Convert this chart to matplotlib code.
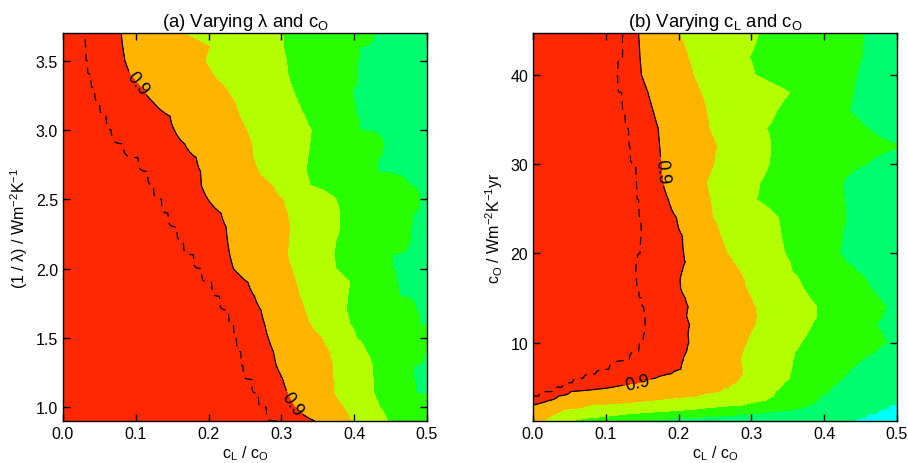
import numpy as np
import matplotlib
matplotlib.use('Agg')
import matplotlib.pyplot as plt

plt.rcParams['font.family'] = ['Liberation Sans', 'DejaVu Sans']
plt.rcParams['mathtext.fontset'] = 'custom'
plt.rcParams['mathtext.rm'] = 'Liberation Sans'
plt.rcParams['mathtext.it'] = 'Liberation Sans:italic'
plt.rcParams['mathtext.default'] = 'regular'

# contour levels belonging to each boundary (read left to right)
LEVELS_A = [0.95, 0.9, 0.8, 0.7, 0.6]
LEVELS_B = [0.95, 0.9, 0.8, 0.7, 0.6, 0.5]
COLORS = ['#00ffff', '#00ff6e', '#28ff00', '#b4ff00', '#ffb400', '#ff2800']

# panel (a): x position (c_L / c_O) of each boundary at given 1/lambda
y_a = [0.9, 1.0, 1.1, 1.2, 1.3, 1.4, 1.5, 1.6, 1.7, 1.8, 1.9, 2.0, 2.1, 2.2, 2.3,
       2.4, 2.5, 2.6, 2.7, 2.8, 2.9, 3.0, 3.1, 3.2, 3.3, 3.4, 3.5, 3.6, 3.7]
dash_a = [.293, .279, .268, .259, .247, .244, .238, .234, .227, .215, .204, .190, .179, .165, .156,
          .144, .135, .124, .116, .103, .082, .066, .059, .050, .043, .038, .033, .031, .030]
red_a = [.346, .318, .308, .302, .293, .289, .282, .277, .272, .263, .254, .234, .229, .226, .224,
         .217, .199, .190, .189, .183, .167, .153, .147, .124, .108, .092, .085, .082, .080]
orange_a = [.396, .385, .372, .371, .370, .366, .355, .339, .332, .325, .320, .314, .308, .310, .311,
            .308, .302, .288, .268, .261, .259, .252, .242, .236, .224, .206, .195, .201, .163]
lime_a = [.446, .435, .427, .426, .425, .417, .403, .394, .389, .391, .394, .375, .372, .375, .380,
          .380, .375, .339, .334, .336, .339, .341, .332, .323, .315, .309, .307, .303, .302]
green_a = [.508, .506, .485, .481, .481, .497, .504, .490, .485, .462, .458, .453, .451, .476, .478,
           .481, .490, .476, .430, .433, .440, .408, .403, .399, .398, .405, .405, .408, .428]

# panel (b): x position of each boundary at given c_O
y_b = [1.2, 1.5, 2, 2.5, 3, 3.5, 4, 4.5, 5, 5.5, 6, 6.5, 7, 8, 9, 10, 11, 12, 13,
       14, 15, 16, 17, 18, 19, 20, 22, 24, 26, 28, 30, 32, 34, 36, 38, 40, 42, 44.7]
dash_b = [-.12, -.10, -.08, -.06, -.035, -.01, .008, .026, .040, .054, .069, .086, .104, .132, .145, .151, .153, .154, .154,
          .152, .149, .145, .142, .141, .143, .147, .149, .148, .145, .142, .141, .133, .131, .126, .122, .116, .123, .123]
red_b = [-.08, -.065, -.045, -.02, .001, .022, .035, .052, .11, .145, .168, .19, .203, .206, .211, .214, .213, .215, .211,
         .213, .209, .203, .202, .205, .209, .207, .205, .197, .186, .178, .176, .174, .172, .165, .158, .149, .147, .145]
orange_b = [.013, .02, .03, .042, .08, .16, .225, .256, .268, .279, .284, .287, .288, .285, .288, .293, .298, .305, .307,
            .305, .299, .293, .290, .284, .275, .266, .257, .247, .243, .238, .248, .252, .242, .238, .230, .220, .213, .199]
lime_b = [.05, .07, .13, .22, .29, .32, .33, .333, .34, .345, .352, .353, .355, .357, .36, .368, .376, .383, .39,
          .39, .38, .372, .366, .356, .353, .346, .341, .337, .307, .312, .324, .327, .321, .335, .353, .305, .297, .31]
green_b = [.12, .19, .30, .36, .38, .39, .395, .405, .41, .417, .425, .43, .436, .45, .47, .485, .48, .472, .48,
           .485, .475, .465, .458, .445, .43, .421, .425, .43, .428, .426, .458, .51, .46, .435, .44, .445, .452, .455]
cyan_b = [.43, .445, .46, .475, .49, .505, .55, .55, .55, .55, .55, .55, .55, .55, .55, .55, .55, .55, .55,
          .55, .55, .55, .55, .55, .55, .55, .55, .55, .55, .494, .55, .55, .55, .55, .55, .55, .55, .55]

x_grid = np.linspace(0, 0.5, 501)


def build_field(bounds, levels):
    rows = []
    for i in range(len(bounds[0])):
        xp = [-1.0] + [b[i] for b in bounds] + [2.0]
        fp = [1.0] + levels + [0.4]
        rows.append(np.interp(x_grid, xp, fp))
    return np.array(rows)


def draw_panel(ax, y, bounds, levels, title, ylabel, ylim, yticks, labels_at):
    z = build_field(bounds, levels)
    ax.contourf(x_grid, y, z, levels=[0.3, 0.5, 0.6, 0.7, 0.8, 0.9, 1.1], colors=COLORS)
    ax.contour(x_grid, y, z, levels=[0.95], colors='black', linewidths=0.9,
               linestyles=[(0, (6.5, 5))])
    cs = ax.contour(x_grid, y, z, levels=[0.9], colors='black', linewidths=0.9)
    ax.clabel(cs, fmt='%.1f', fontsize=13, inline=True, inline_spacing=2, manual=labels_at)

    ax.set_xlim(0, 0.5)
    ax.set_ylim(*ylim)
    ax.set_xticks([0.0, 0.1, 0.2, 0.3, 0.4, 0.5])
    ax.set_yticks(yticks)
    ax.tick_params(direction='in', top=True, right=True, length=5, width=1, labelsize=11.5)
    for s in ax.spines.values():
        s.set_linewidth(1)
    ax.set_title(title, fontsize=13.3, pad=5)
    ax.set_xlabel('c$_L$ / c$_O$', fontsize=11.5, labelpad=2)
    ax.set_ylabel(ylabel, fontsize=11.5)


fig = plt.figure(figsize=(9.08, 4.64), dpi=100)
ax_a = fig.add_axes([63 / 908, 42 / 464, 364 / 908, 388 / 464])
ax_b = fig.add_axes([533 / 908, 42 / 464, 364 / 908, 388 / 464])

draw_panel(ax_a, y_a, [dash_a, red_a, orange_a, lime_a, green_a], LEVELS_A,
           '(a) Varying \u03bb and c$_O$', '(1 / \u03bb) / Wm$^{-2}$K$^{-1}$',
           (0.9, 3.7), [1.0, 1.5, 2.0, 2.5, 3.0, 3.5],
           [(0.107, 3.36), (0.321, 1.04)])
ax_a.set_yticklabels(['1.0', '1.5', '2.0', '2.5', '3.0', '3.5'])

draw_panel(ax_b, y_b, [dash_b, red_b, orange_b, lime_b, green_b, cyan_b], LEVELS_B,
           '(b) Varying c$_L$ and c$_O$', 'c$_O$ / Wm$^{-2}$K$^{-1}$yr',
           (1.2, 44.7), [10, 20, 30, 40],
           [(0.18, 29.2), (0.143, 5.5)])

fig.savefig('out.png', dpi=100)
